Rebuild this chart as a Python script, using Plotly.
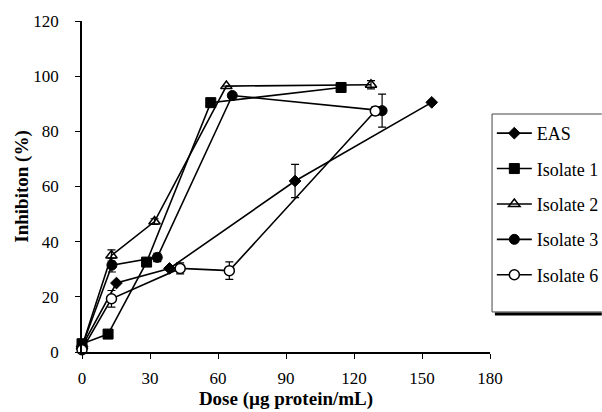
import plotly.graph_objects as go

# ---- data ----
series_names = ["EAS", "Isolate 1", "Isolate 2", "Isolate 3", "Isolate 6"]

eas_x = [0, 15.2, 38.6, 94, 154.3]
eas_y = [2, 25, 30.3, 62, 90.5]
eas_err = [0, 0, 0, 6, 0]

iso1_x = [0, 11.5, 28.5, 56.8, 114.3]
iso1_y = [3, 6.5, 32.6, 90.4, 95.9]
iso1_err = [0, 0, 0, 0, 0]

iso2_x = [0, 13, 32, 63.7, 127.5]
iso2_y = [2, 35, 47.3, 96.4, 96.9]
iso2_err = [0, 2, 1, 0, 1.5]

iso3_x = [0, 13.2, 33.2, 66.3, 132.4]
iso3_y = [2, 31.5, 34.3, 93, 87.5]
iso3_err = [0, 2.5, 1.5, 0, 6]

iso6_x = [0, 13, 43.3, 65, 129.4]
iso6_y = [0.8, 19.3, 30.3, 29.5, 87.4]
iso6_err = [0, 3, 2, 3.2, 1.5]

x_ticks = [0, 30, 60, 90, 120, 150, 180]
y_ticks = [0, 20, 40, 60, 80, 100, 120]

FONT = "Liberation Serif"

styles = [
    dict(symbol="diamond", size=9, color="black", line=dict(color="black", width=1)),
    dict(symbol="square", size=10, color="black", line=dict(color="black", width=1)),
    dict(symbol="triangle-up-open", size=10, color="black", line=dict(color="black", width=1.5)),
    dict(symbol="circle", size=10, color="black", line=dict(color="black", width=1)),
    dict(symbol="circle", size=10, color="white", line=dict(color="black", width=1.5)),
]

data = [
    (eas_x, eas_y, eas_err),
    (iso1_x, iso1_y, iso1_err),
    (iso2_x, iso2_y, iso2_err),
    (iso3_x, iso3_y, iso3_err),
    (iso6_x, iso6_y, iso6_err),
]

fig = go.Figure()
for name, (xs, ys, es), mk in zip(series_names, data, styles):
    fig.add_trace(go.Scatter(
        x=xs, y=ys, name=name, mode="lines+markers",
        line=dict(color="black", width=1.6),
        marker=mk,
        error_y=dict(type="data", array=es, visible=True, color="black",
                     thickness=1.2, width=4),
        cliponaxis=False,
        legendgroup=name,
    ))

fig.update_layout(
    width=602, height=412,
    margin=dict(l=82, r=112, t=21, b=60, autoexpand=False),
    paper_bgcolor="white", plot_bgcolor="white",
    font=dict(family=FONT, color="black", size=17),
    showlegend=True,
    legend=dict(
        xref="container", yref="container",
        x=0.817, y=0.721, xanchor="left", yanchor="top",
        borderwidth=0, bgcolor="rgba(0,0,0,0)",
        font=dict(family=FONT, size=18, color="black"),
        tracegroupgap=9, itemwidth=35,
    ),
)

fig.update_xaxes(
    range=[0, 180], tickvals=x_ticks, ticks="outside", ticklen=5,
    tickcolor="black", showline=True, linecolor="black", linewidth=1.5,
    showgrid=False, zeroline=False, ticklabelstandoff=5, automargin=False,
    tickfont=dict(family=FONT, size=17),
    title=dict(text="<b>Dose (µg protein/mL)</b>", font=dict(family=FONT, size=19), standoff=0),
)
fig.update_yaxes(
    range=[0, 120], tickvals=y_ticks, ticks="outside", ticklen=5,
    tickcolor="black", showline=True, linecolor="black", linewidth=1.5,
    showgrid=False, zeroline=False, ticklabelstandoff=13, automargin=False,
    tickfont=dict(family=FONT, size=17),
    title=dict(text="<b>Inhibiton (%)</b>", font=dict(family=FONT, size=19), standoff=0),
)

# legend frame (open on the right, where the figure edge cuts it) and its shadow
fig.add_shape(type="path", xref="paper", yref="paper",
              path="M 1.274,0.719 L 1.005,0.719 L 1.005,0.121 L 1.274,0.121",
              line=dict(color="#444", width=1))
fig.add_shape(type="line", xref="paper", yref="paper",
              x0=1.012, x1=1.274, y0=0.115, y1=0.115,
              line=dict(color="black", width=3))

fig.write_html("out.html",
               config={"displayModeBar": False},
               post_script="document.body.style.margin='0';document.body.style.overflow='hidden';")
